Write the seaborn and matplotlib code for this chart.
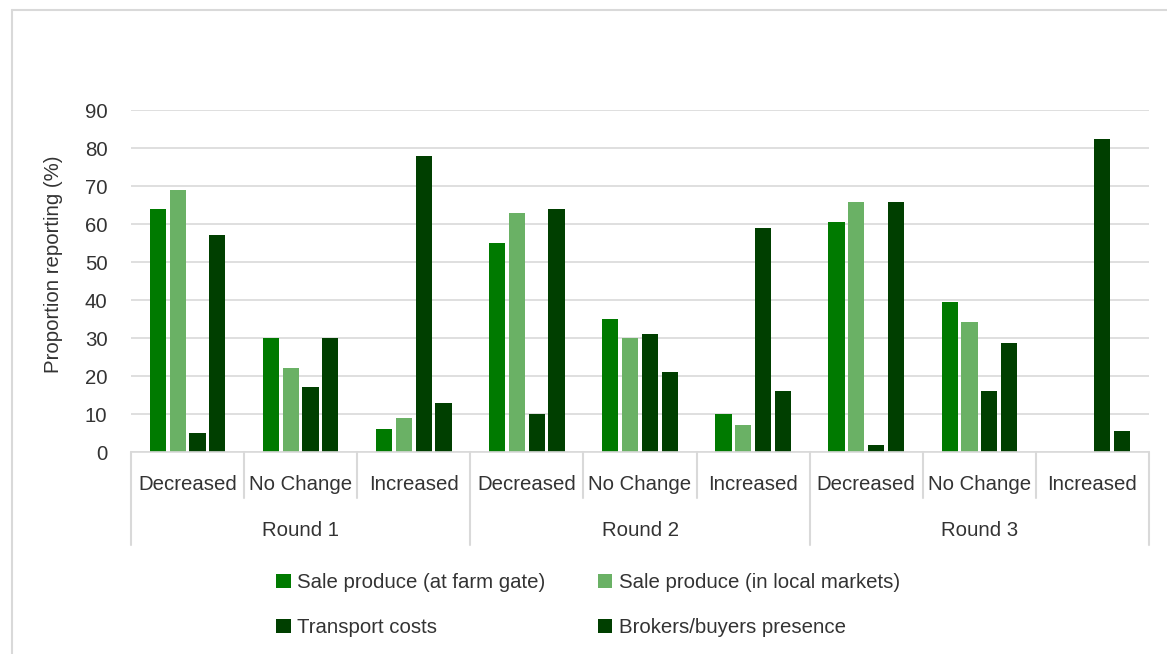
import matplotlib
matplotlib.use("Agg")
import matplotlib.pyplot as plt
from matplotlib.patches import Patch
from matplotlib.lines import Line2D
import seaborn as sns
import pandas as pd

# Survey results: share of respondents reporting each change, per round
rounds = ["Round 1", "Round 2", "Round 3"]
changes = ["Decreased", "No Change", "Increased"]
series = [
    "Sale produce (at farm gate)",
    "Sale produce (in local markets)",
    "Transport costs",
    "Brokers/buyers presence",
]
farm_gate = [64, 30, 6, 55, 35, 10, 60.5, 39.5, 0]
local_markets = [69, 22, 9, 63, 30, 7, 65.7, 34.3, 0]
transport = [5, 17, 78, 10, 31, 59, 1.8, 16, 82.3]
brokers = [57, 30, 13, 64, 21, 16, 65.7, 28.8, 5.5]
colors = ["#007a00", "#6ab165", "#003f00", "#003f00"]

groups = [f"{r}|{c}" for r in rounds for c in changes]
rows = []
for name, vals in zip(series, [farm_gate, local_markets, transport, brokers]):
    for g, v in zip(groups, vals):
        rows.append({"group": g, "series": name, "value": v})
df = pd.DataFrame(rows)

sns.set_theme(style="white")
plt.rcParams["font.family"] = ["Liberation Sans", "DejaVu Sans"]
text_color = "#333333"
grid_color = "#d9d9d9"
fs = 14.7

fig = plt.figure(figsize=(11.67, 6.54), dpi=100)
W, H = 1167, 654
ax = fig.add_axes([131 / W, 1 - 452 / H, (1149 - 131) / W, (452 - 110) / H])

sns.barplot(data=df, x="group", y="value", hue="series", order=groups,
            hue_order=series, palette=colors, width=0.7, gap=0.18,
            saturation=1, ax=ax, legend=False, edgecolor="none")

ax.set_ylim(0, 90)
ax.set_xlim(-0.5, len(groups) - 0.5)
ax.set_yticks(range(0, 91, 10))
ax.yaxis.grid(True, color=grid_color, linewidth=1.2)
ax.set_axisbelow(True)
for s in ["top", "right", "left"]:
    ax.spines[s].set_visible(False)
ax.spines["bottom"].set_color(grid_color)
ax.spines["bottom"].set_linewidth(1.2)
ax.tick_params(axis="y", length=0, pad=17, labelsize=fs, labelcolor=text_color)
ax.set_xticks([])
ax.set_xlabel("")
ax.set_ylabel("Proportion reporting (%)", fontsize=fs, color=text_color)
ax.yaxis.set_label_coords(-68 / (1149 - 131), 0.55)

# Two-level category axis: change labels and round labels with separators
axh = 452 - 110
trans = ax.get_xaxis_transform()
for i, g in enumerate(groups):
    ax.text(i, -32 / axh, g.split("|")[1], transform=trans, ha="center",
            va="center", fontsize=fs, color=text_color)
for j, r in enumerate(rounds):
    ax.text(j * 3 + 1, -79 / axh, r, transform=trans, ha="center",
            va="center", fontsize=fs, color=text_color)
for k in range(len(groups) + 1):
    bottom = -93 / axh if k % 3 == 0 else -46 / axh
    ax.add_line(Line2D([k - 0.5, k - 0.5], [0, bottom], transform=trans,
                       color=grid_color, linewidth=1.5, clip_on=False))

# Legend below the axis, filled row by row
handles = [Patch(facecolor=c, edgecolor="none") for c in colors]
order = [0, 2, 1, 3]
fig.legend([handles[i] for i in order], [series[i] for i in order],
           loc="upper left", bbox_to_anchor=(258 / W, 1 - 555 / H), ncol=2,
           frameon=False, fontsize=fs, labelcolor=text_color,
           handlelength=0.7, handleheight=0.7, handletextpad=0.3,
           columnspacing=2.6, labelspacing=1.25)

# Chart frame
fig.add_artist(Line2D([12 / W, 1.0], [1 - 10 / H, 1 - 10 / H],
                      transform=fig.transFigure, color=grid_color, linewidth=1.5))
fig.add_artist(Line2D([12 / W, 12 / W], [1 - 10 / H, 0],
                      transform=fig.transFigure, color=grid_color, linewidth=1.5))

fig.savefig("out.png", dpi=100)
